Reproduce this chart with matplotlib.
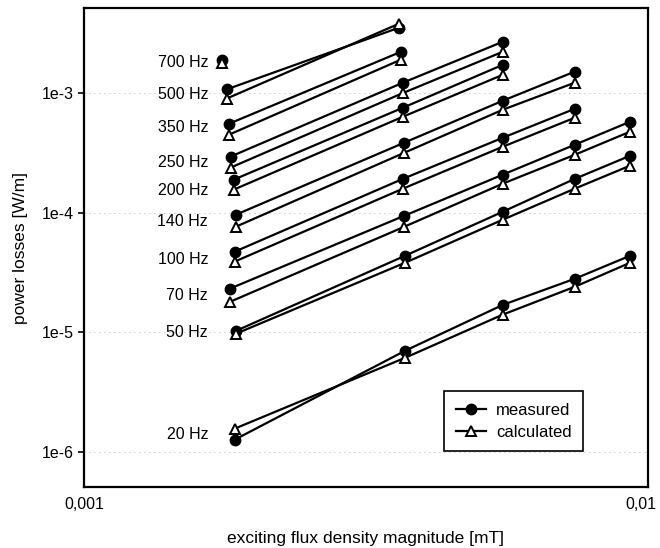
import numpy as np
import matplotlib
matplotlib.use("Agg")
import matplotlib.pyplot as plt
import matplotlib.transforms as mtransforms
from matplotlib.lines import Line2D

plt.rcParams['font.family'] = ['Liberation Sans', 'DejaVu Sans']

# frequencies and their label text
freqs = ['700 Hz', '500 Hz', '350 Hz', '250 Hz', '200 Hz',
         '140 Hz', '100 Hz', '70 Hz', '50 Hz', '20 Hz']

# exciting flux density [mT] per frequency
b_700 = [1.76e-3]
b_500 = [1.79e-3, 3.62e-3]
b_350 = [1.81e-3, 3.65e-3]
b_250 = [1.82e-3, 3.68e-3, 5.53e-3]
b_200 = [1.845e-3, 3.68e-3, 5.53e-3]
b_140 = [1.86e-3, 3.70e-3, 5.53e-3, 7.42e-3]
b_100 = [1.85e-3, 3.68e-3, 5.53e-3, 7.42e-3]
b_70 = [1.815e-3, 3.70e-3, 5.53e-3, 7.42e-3, 9.29e-3]
b_50 = [1.86e-3, 3.71e-3, 5.53e-3, 7.42e-3, 9.29e-3]
b_20 = [1.85e-3, 3.71e-3, 5.53e-3, 7.42e-3, 9.29e-3]

# measured power losses [W/m]
meas_700 = [1.90e-3]
meas_500 = [1.07e-3, 3.51e-3]
meas_350 = [5.54e-4, 2.21e-3]
meas_250 = [2.94e-4, 1.22e-3, 2.68e-3]
meas_200 = [1.89e-4, 7.54e-4, 1.72e-3]
meas_140 = [9.62e-5, 3.85e-4, 8.62e-4, 1.51e-3]
meas_100 = [4.72e-5, 1.92e-4, 4.23e-4, 7.39e-4]
meas_70 = [2.32e-5, 9.44e-5, 2.08e-4, 3.70e-4, 5.75e-4]
meas_50 = [1.03e-5, 4.37e-5, 1.02e-4, 1.92e-4, 2.99e-4]
meas_20 = [1.27e-6, 7.03e-6, 1.70e-5, 2.81e-5, 4.37e-5]

# calculated power losses [W/m]
calc_700 = [1.79e-3]
calc_500 = [8.96e-4, 3.79e-3]
calc_350 = [4.49e-4, 1.90e-3]
calc_250 = [2.38e-4, 1.00e-3, 2.21e-3]
calc_200 = [1.56e-4, 6.34e-4, 1.42e-3]
calc_140 = [7.64e-5, 3.17e-4, 7.25e-4, 1.22e-3]
calc_100 = [3.90e-5, 1.59e-4, 3.56e-4, 6.22e-4]
calc_70 = [1.80e-5, 7.64e-5, 1.75e-4, 3.05e-4, 4.75e-4]
calc_50 = [9.75e-6, 3.82e-5, 8.75e-5, 1.59e-4, 2.47e-4]
calc_20 = [1.57e-6, 6.14e-6, 1.41e-5, 2.41e-5, 3.82e-5]

# where the frequency labels sit (y value)
label_y = [1.79e-3, 9.7e-4, 5.13e-4, 2.62e-4, 1.53e-4,
           8.4e-5, 4.1e-5, 2.03e-5, 1.0e-5, 1.4e-6]
label_x = 1.66e-3

x_ticks = [0.001, 0.01]
x_ticklabels = ['0,001', '0,01']
y_ticks = [1e-6, 1e-5, 1e-4, 1e-3]
y_ticklabels = ['1e-6', '1e-5', '1e-4', '1e-3']

b_all = [b_700, b_500, b_350, b_250, b_200, b_140, b_100, b_70, b_50, b_20]
meas_all = [meas_700, meas_500, meas_350, meas_250, meas_200,
            meas_140, meas_100, meas_70, meas_50, meas_20]
calc_all = [calc_700, calc_500, calc_350, calc_250, calc_200,
            calc_140, calc_100, calc_70, calc_50, calc_20]

fig = plt.figure(figsize=(6.6, 5.48), dpi=100)
ax = fig.add_axes([0.127, 0.111, 0.855, 0.874])
ax.set_xscale('log')
ax.set_yscale('log')
ax.set_xlim(0.001, 0.01)
ax.set_ylim(5.1e-7, 5.1e-3)

# faint dotted grid, like the scanned background
ax.grid(True, which='both', color='0.6', linestyle=(0, (1, 5)), linewidth=0.6)

marker_kw = dict(color='black', linewidth=1.6, markersize=7.5)
for b, m, c in zip(b_all, meas_all, calc_all):
    ax.plot(b, m, marker='o', markerfacecolor='black', zorder=3, **marker_kw)
    ax.plot(b, c, marker='^', markerfacecolor='white', markeredgewidth=1.4,
            zorder=4, **marker_kw)

for name, y in zip(freqs, label_y):
    ax.text(label_x, y, name, ha='right', va='center', fontsize=11.5)

ax.set_xticks(x_ticks)
ax.set_xticklabels(x_ticklabels, fontsize=11.5)
ax.set_yticks(y_ticks)
ax.set_yticklabels(y_ticklabels, fontsize=11.5)
ax.xaxis.set_minor_locator(matplotlib.ticker.NullLocator())
ax.yaxis.set_minor_locator(matplotlib.ticker.NullLocator())
ax.tick_params(axis='x', length=0, pad=7)
ax.tick_params(axis='y', length=4, width=1.2, direction='out', pad=3)
for s in ax.spines.values():
    s.set_linewidth(1.6)

# nudge the right x label a little so it stays inside the figure
shift = mtransforms.ScaledTranslation(-5 / 72, 0, fig.dpi_scale_trans)
lbl = ax.get_xticklabels()[1]
lbl.set_transform(lbl.get_transform() + shift)

ax.set_xlabel('exciting flux density magnitude [mT]', fontsize=12.5, labelpad=14)
ax.set_ylabel('power losses [W/m]', fontsize=12.5, labelpad=10)

handles = [
    Line2D([], [], marker='o', markerfacecolor='black', **marker_kw),
    Line2D([], [], marker='^', markerfacecolor='white', markeredgewidth=1.4,
           **marker_kw),
]
leg = ax.legend(handles, ['measured', 'calculated'], loc='lower right',
                bbox_to_anchor=(0.885, 0.075), borderaxespad=0, fontsize=12,
                frameon=True, fancybox=False, edgecolor='black', framealpha=1,
                handlelength=1.8, borderpad=0.7, labelspacing=0.4,
                handletextpad=0.6)
leg.get_frame().set_linewidth(1.2)

fig.savefig('out.png', dpi=100)
